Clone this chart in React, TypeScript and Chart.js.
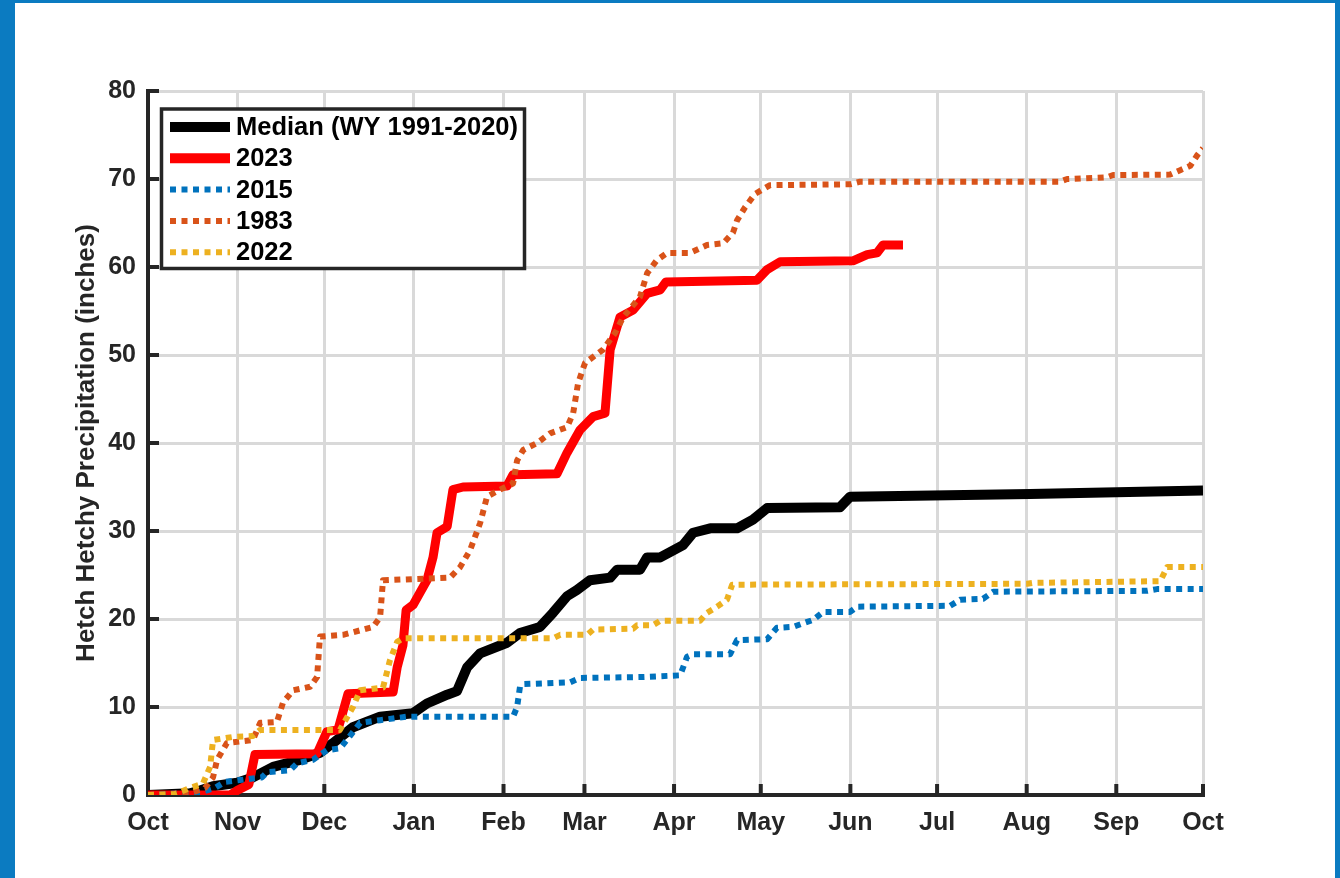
import React, { useEffect, useRef } from "react";
import { Chart, registerables } from "chart.js";

Chart.register(...registerables);

// Day of water year (0 = Oct 1) for each month tick
const monthTicks = [0, 31, 61, 92, 123, 151, 182, 212, 243, 273, 304, 335, 365];
const monthLabels = ["Oct", "Nov", "Dec", "Jan", "Feb", "Mar", "Apr", "May", "Jun", "Jul", "Aug", "Sep", "Oct"];
const yTickValues = [0, 10, 20, 30, 40, 50, 60, 70, 80];

// Median (WY 1991-2020)
const medianDays = [0, 14.5, 18, 22.5, 30.8, 36.3, 43.3, 52.6, 59.5, 64, 70.9, 80.3, 91.7, 96.5, 103.5, 106.9, 110.4, 114.9, 124.2, 128.7, 135.6, 140.1, 145, 148.4, 152.9, 159.9, 162.3, 170.2, 172.7, 177.2, 180.6, 185.1, 188.6, 194.5, 203.8, 209.3, 214.2, 239.4, 242.9, 305.2, 365];
const medianVals = [0, 0.2, 0.5, 1.0, 1.4, 2.0, 3.2, 4.0, 4.8, 5.9, 7.7, 8.9, 9.3, 10.4, 11.4, 11.8, 14.5, 16.1, 17.3, 18.4, 19.1, 20.7, 22.6, 23.3, 24.4, 24.7, 25.6, 25.6, 27.0, 27.0, 27.6, 28.4, 29.8, 30.3, 30.3, 31.3, 32.6, 32.7, 33.9, 34.2, 34.6];

// 2023
const wy2023Days = [0, 28.4, 30.8, 34.9, 37, 58.5, 61.9, 65.7, 69.2, 84.8, 86.2, 88.2, 89.3, 91.7, 96.5, 98.6, 100, 103.5, 105.5, 109, 124.2, 126.3, 141.5, 145, 149.5, 154, 158.1, 159.9, 163.3, 167.8, 172.7, 177.2, 179.2, 210.7, 214.2, 218.7, 243.9, 248.8, 252.2, 254.3, 261.2];
const wy2023Vals = [0, 0, 0.5, 1.2, 4.6, 4.7, 7.2, 7.4, 11.5, 11.7, 14.5, 17, 21, 21.6, 24.4, 27, 29.8, 30.5, 34.7, 35, 35.1, 36.4, 36.5, 38.9, 41.5, 43, 43.4, 50.6, 54.3, 55.1, 57, 57.4, 58.3, 58.5, 59.7, 60.6, 60.7, 61.4, 61.6, 62.5, 62.5];

// 2015
const wy2015Days = [0, 18, 23.2, 26.6, 31.8, 39.4, 41.2, 49.1, 51.6, 57.1, 61.9, 66.4, 68.9, 73.4, 80.3, 89.6, 126.3, 127.7, 128.7, 129.8, 146, 149.5, 170.2, 184.1, 186.5, 188.6, 201.4, 203.8, 214.2, 217.6, 223.2, 226.6, 230.1, 233.6, 242.9, 245.3, 277.5, 281, 288.9, 292.4, 345.7, 349.1, 365];
const wy2015Vals = [0, 0.3, 0.8, 1.5, 1.7, 2.0, 2.6, 2.8, 3.6, 4.0, 5.1, 5.3, 6.3, 8.2, 8.5, 8.9, 8.9, 10, 12.3, 12.6, 12.8, 13.3, 13.4, 13.6, 15.7, 16, 16, 17.6, 17.7, 19, 19.1, 19.5, 19.9, 20.8, 20.8, 21.4, 21.5, 22.2, 22.3, 23.1, 23.2, 23.4, 23.4];

// 1983
const wy1983Days = [0, 14.5, 19.7, 22.5, 23.9, 27.3, 36.3, 38.8, 44.6, 46.7, 50.2, 56.1, 58.5, 59.5, 67.5, 77.9, 80.3, 81.3, 104.5, 108, 111.4, 114.9, 117.3, 121.8, 126.3, 127.7, 129.8, 134.6, 139.1, 145, 147.1, 148.8, 151.2, 157.4, 161.6, 164.4, 170.2, 172.7, 176.1, 179.6, 187.5, 193.4, 199, 202.4, 203.8, 206.6, 210, 215.2, 242.9, 246.4, 315.6, 318, 331.8, 333.9, 353.6, 357.1, 360.6, 363, 365];
const wy1983Vals = [0, 0.2, 0.8, 2, 4, 5.9, 6.25, 8.2, 8.3, 10.5, 11.9, 12.3, 13.4, 18, 18.2, 19.1, 20.2, 24.4, 24.7, 25.9, 27.8, 30.9, 33.9, 34.7, 35.4, 38, 39.2, 40, 41.1, 41.8, 43.4, 46.8, 49.1, 50.6, 52.5, 54.3, 56.6, 59.3, 60.8, 61.6, 61.6, 62.5, 62.7, 63.9, 65.3, 66.8, 68.3, 69.3, 69.4, 69.7, 69.7, 70, 70.2, 70.45, 70.5, 71, 71.5, 72.7, 73.5];

// 2022
const wy2022Days = [0, 9.3, 14.5, 19, 21.5, 22.5, 29.4, 36.3, 38.8, 66.4, 70.9, 73.4, 81.3, 83.7, 86.2, 88.2, 140.1, 142.6, 151.9, 154, 167.8, 169.2, 174.7, 177.2, 191, 193.4, 196.9, 200.3, 202.1, 304.2, 306.2, 350.2, 352.6, 365];
const wy2022Vals = [0, 0.1, 0.8, 1.3, 3.2, 6.25, 6.6, 6.7, 7.4, 7.4, 10, 11.9, 12.2, 15.3, 17.4, 17.8, 17.8, 18.2, 18.2, 18.8, 18.9, 19.3, 19.3, 19.8, 19.8, 20.7, 21.4, 22.2, 23.9, 24.0, 24.1, 24.3, 25.9, 25.9];

const FONT = "'Liberation Sans', Arial, Helvetica, sans-serif";
const AXIS_COLOR = "#262626";

const pts = (xs: number[], ys: number[]) => xs.map((x, i) => ({ x, y: ys[i] }));

const innerTicksPlugin = {
  id: "innerTicks",
  beforeDatasetsDraw(chart: any) {
    const { ctx, chartArea, scales } = chart;
    ctx.save();
    ctx.strokeStyle = AXIS_COLOR;
    ctx.lineWidth = 4;
    ctx.lineCap = "butt";
    const len = 11;
    yTickValues.forEach((v) => {
      const y = scales.y.getPixelForValue(v);
      ctx.beginPath();
      ctx.moveTo(chartArea.left - 2, y);
      ctx.lineTo(chartArea.left + len, y);
      ctx.stroke();
    });
    monthTicks.forEach((v) => {
      const x = scales.x.getPixelForValue(v);
      ctx.beginPath();
      ctx.moveTo(x, chartArea.bottom + 2);
      ctx.lineTo(x, chartArea.bottom - len);
      ctx.stroke();
    });
    ctx.restore();
  },
};

const legendPlugin = {
  id: "boxLegend",
  afterDraw(chart: any) {
    const { ctx } = chart;
    const order = [0, 1, 2, 3, 4];
    const x0 = 161.5, y0 = 109, x1 = 524.5, y1 = 268.5;
    ctx.save();
    ctx.fillStyle = "#ffffff";
    ctx.fillRect(x0, y0, x1 - x0, y1 - y0);
    ctx.strokeStyle = AXIS_COLOR;
    ctx.lineWidth = 3.5;
    ctx.strokeRect(x0, y0, x1 - x0, y1 - y0);
    ctx.font = `bold 25.5px ${FONT}`;
    ctx.textBaseline = "middle";
    ctx.textAlign = "left";
    order.forEach((di, i) => {
      const ds = chart.data.datasets[di];
      const y = 127 + i * 31.3;
      ctx.save();
      ctx.strokeStyle = ds.borderColor;
      ctx.lineWidth = ds.borderDash && ds.borderDash.length ? 6 : 10;
      ctx.setLineDash(ds.borderDash || []);
      ctx.lineCap = "butt";
      ctx.beginPath();
      ctx.moveTo(170, y);
      ctx.lineTo(230, y);
      ctx.stroke();
      ctx.restore();
      ctx.fillStyle = "#000000";
      ctx.fillText(ds.label, 236, y + 1);
    });
    ctx.restore();
  },
};

export default function App() {
  const ref = useRef<HTMLCanvasElement | null>(null);

  useEffect(() => {
    if (!ref.current) return;
    const dotted = [6, 5.5];
    const chart = new Chart(ref.current, {
      type: "line",
      data: {
        datasets: [
          { label: "Median (WY 1991-2020)", data: pts(medianDays, medianVals), borderColor: "#000000", borderWidth: 10, order: 4 },
          { label: "2023", data: pts(wy2023Days, wy2023Vals), borderColor: "#ff0000", borderWidth: 9, order: 3 },
          { label: "2015", data: pts(wy2015Days, wy2015Vals), borderColor: "#0072bd", borderWidth: 6, borderDash: dotted, order: 2 },
          { label: "1983", data: pts(wy1983Days, wy1983Vals), borderColor: "#d95319", borderWidth: 6, borderDash: dotted, order: 1 },
          { label: "2022", data: pts(wy2022Days, wy2022Vals), borderColor: "#edb120", borderWidth: 6, borderDash: dotted, order: 0 },
        ] as any,
      },
      options: {
        responsive: false,
        animation: false,
        devicePixelRatio: 1,
        layout: { padding: { top: 91, right: 137, bottom: 0, left: 0 } },
        elements: {
          point: { radius: 0, hoverRadius: 0 },
          line: { tension: 0, borderJoinStyle: "round", borderCapStyle: "butt", fill: false },
        },
        plugins: {
          legend: { display: false },
          tooltip: { enabled: false },
          title: { display: false },
        },
        scales: {
          x: {
            type: "linear",
            min: 0,
            max: 365,
            afterBuildTicks: (s: any) => {
              s.ticks = monthTicks.map((v) => ({ value: v }));
            },
            afterFit: (s: any) => {
              s.height = 83;
            },
            ticks: {
              autoSkip: false,
              maxRotation: 0,
              padding: 13,
              color: AXIS_COLOR,
              font: { family: FONT, size: 25, weight: "bold" },
              callback: (_v: any, i: number) => monthLabels[i],
            },
            grid: { color: "#d9d9d9", lineWidth: 3, drawTicks: false },
            border: { display: true, color: AXIS_COLOR, width: 4 },
          },
          y: {
            type: "linear",
            min: 0,
            max: 80,
            afterBuildTicks: (s: any) => {
              s.ticks = yTickValues.map((v) => ({ value: v }));
            },
            afterFit: (s: any) => {
              s.width = 148;
            },
            ticks: {
              padding: 12,
              color: AXIS_COLOR,
              font: { family: FONT, size: 25, weight: "bold" },
            },
            grid: { color: "#d9d9d9", lineWidth: 3, drawTicks: false },
            border: { display: true, color: AXIS_COLOR, width: 4 },
            title: {
              display: true,
              text: "Hetch Hetchy Precipitation (inches)",
              color: AXIS_COLOR,
              font: { family: FONT, size: 26, weight: "bold" },
              padding: { top: 71, bottom: 0 },
            },
          },
        },
      } as any,
      plugins: [innerTicksPlugin, legendPlugin],
    });
    return () => chart.destroy();
  }, []);

  return (
    <div style={{ position: "fixed", left: 0, top: 0, width: 1340, height: 878, background: "#ffffff", overflow: "hidden" }}>
      <div style={{ position: "absolute", left: 0, top: 0, width: 15, height: 878, background: "#0b7bc1" }} />
      <div style={{ position: "absolute", left: 0, top: 0, width: 1340, height: 3, background: "#0b7bc1" }} />
      <div style={{ position: "absolute", right: 0, top: 0, width: 5, height: 878, background: "#0b7bc1" }} />
      <canvas ref={ref} width={1340} height={878} style={{ position: "absolute", left: 0, top: 0, width: 1340, height: 878 }} />
    </div>
  );
}
